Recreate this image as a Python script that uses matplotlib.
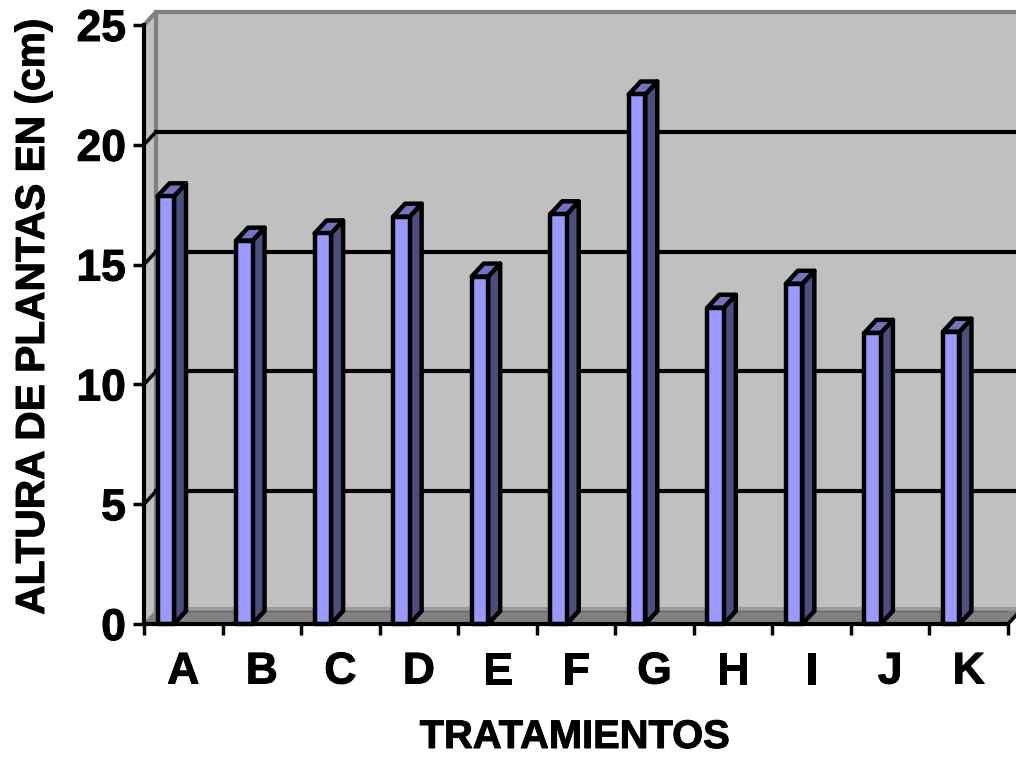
import matplotlib
matplotlib.use('Agg')
import matplotlib.pyplot as plt
import matplotlib.patheffects as pe
from matplotlib.patches import Polygon

categories = ['A', 'B', 'C', 'D', 'E', 'F', 'G', 'H', 'I', 'J', 'K']
alturas = [17.85, 16.0, 16.3, 17.0, 14.5, 17.1, 22.1, 13.2, 14.2, 12.15, 12.2]
y_ticks = [0, 5, 10, 15, 20, 25]

W, H = 1016, 758
plt.rcParams['font.family'] = ['Liberation Sans', 'DejaVu Sans']
plt.rcParams['font.weight'] = 'bold'

fig = plt.figure(figsize=(W / 100, H / 100), dpi=100)
ax = fig.add_axes([144 / W, 1 - 624 / H, 864 / W, 599 / H])
ax.set_xlim(0, 11)
ax.set_ylim(0, 25)
ax.patch.set_visible(False)

# depth of the fake 3d box, in data units
px_x = 11 / 864
px_y = 25 / 599
dx = 12 * px_x
dy = 13 * px_y
heavy = [pe.withStroke(linewidth=0.7, foreground='black')]

def poly(pts, fc, ec='black', lw=3.2, z=2):
    ax.add_patch(Polygon(pts, closed=True, fc=fc, ec=ec, lw=lw, zorder=z,
                         clip_on=False, joinstyle='round'))

# walls and floor
poly([(dx, dy), (12, dy), (12, 25 + dy), (dx, 25 + dy)], '#c0c0c0', 'none', 0, 1)
poly([(0, 0), (dx, dy), (dx, 25 + dy), (0, 25)], '#c0c0c0', 'none', 0, 1)
poly([(0, 0), (11, 0), (11 + dx, dy), (12, dy), (12, 4 * px_y + dy), (dx, 4 * px_y + dy), (dx, dy)],
     '#808080', 'none', 0, 1)
# lighter strip at the foot of the back wall
poly([(dx, dy), (12, dy), (12, 4 * px_y + dy), (dx, 4 * px_y + dy)], '#9a9a9a', 'none', 0, 1.2)
ax.plot([dx, 12], [dy, dy], color='#666666', lw=1, zorder=1.5, clip_on=True)
ax.plot([dx, dx], [dy, 25 + dy], color='#808080', lw=3, zorder=1.5, clip_on=False)
ax.plot([0, dx, 12], [25, 25 + dy, 25 + dy], color='#808080', lw=3, zorder=1.5, clip_on=False)
ax.plot([0, dx], [0, dy], color='#808080', lw=1.5, zorder=1.5, clip_on=False)

# gridlines on back wall, starting from the side wall
for t in y_ticks[1:-1]:
    ax.plot([dx, 12], [t + dy, t + dy], color='black', lw=3, zorder=1.6, clip_on=False)
    ax.plot([0, dx], [t, t + dy], color='black', lw=2.5, zorder=1.6, clip_on=False)

# bars
bar_off = 13.5 * px_x
bar_w = 16.5 * px_x
for i, v in enumerate(alturas):
    x0 = i + bar_off
    x1 = x0 + bar_w
    poly([(x1, 0), (x1 + dx, dy), (x1 + dx, v + dy), (x1, v)], '#4d4d80', z=3)
    poly([(x0, v), (x1, v), (x1 + dx, v + dy), (x0 + dx, v + dy)], '#7373bf', z=3)
    poly([(x0, 0), (x1, 0), (x1, v), (x0, v)], '#9999ff', z=4)

# right end of floor
ax.plot([11, 11 + dx], [0, dy], color='black', lw=2.5, zorder=3, clip_on=False)

for s in ['top', 'right']:
    ax.spines[s].set_visible(False)
for s in ['left', 'bottom']:
    ax.spines[s].set_linewidth(3)
    ax.spines[s].set_zorder(5)

ax.set_yticks(y_ticks)
ax.set_xticks(range(12))
ax.set_xticklabels([''] * 12)
ax.tick_params(axis='both', width=2.5, length=8, labelsize=32, pad=5)
for lab in ax.get_yticklabels():
    lab.set_path_effects(heavy)

for i, c in enumerate(categories):
    ax.text(i + 0.5, -48 / 599, c, transform=ax.get_xaxis_transform(), ha='center', va='center',
            fontsize=32, fontweight='bold', path_effects=heavy)

ax.text(5.48, -113 / 599, 'TRATAMIENTOS', transform=ax.get_xaxis_transform(), ha='center',
        va='center', fontsize=28.7, fontweight='bold', path_effects=heavy)
fig.text(33 / W, 1 - 316 / H, 'ALTURA DE PLANTAS EN (cm)', rotation=90, ha='center', va='center',
         fontsize=29.3, fontweight='bold', path_effects=heavy)

fig.savefig('out.png', dpi=100)
